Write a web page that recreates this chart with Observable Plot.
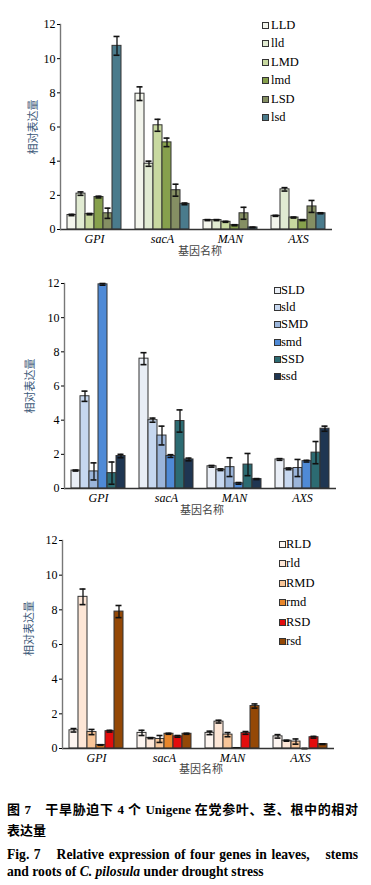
<!DOCTYPE html>
<html>
<head>
<meta charset="utf-8">
<script src="https://cdn.jsdelivr.net/npm/d3@7"></script>
<script src="https://cdn.jsdelivr.net/npm/@observablehq/plot@0.6"></script>
<style>
  html, body { margin: 0; padding: 0; background: #fff; }
  #root { position: relative; width: 371px; height: 885px; overflow: hidden; background: #fff; }
  .panel { position: absolute; left: 0; }
  .legend { position: absolute; font-family: "Liberation Serif", serif; font-size: 12.5px; color: #000; }
  .legend .row { position: absolute; left: 0; white-space: nowrap; line-height: 14px; height: 14px; }
  .legend .sw { position: absolute; left: 0; top: 4px; width: 5px; height: 5px; border: 1px solid #333; }
  .legend .lb { position: absolute; top: 0; }
  .xtitle { position: absolute; font-family: "Noto Sans CJK SC", sans-serif; font-size: 11px; color: #444; white-space: nowrap; transform: translate(-50%, -50%); }
  .cap { position: absolute; left: 7px; width: 351px; font-family: "Liberation Serif", "Noto Sans CJK SC", serif; font-weight: bold; font-size: 13px; color: #000; white-space: nowrap; }
  .en { font-size: 13.6px; }
  .just { text-align: justify; text-align-last: justify; white-space: normal; }
</style>
</head>
<body>
<div id="root"></div>
<script>
// ---------- data ----------
const genes = ["GPI", "sacA", "MAN", "AXS"];
const yTicks = [0, 2, 4, 6, 8, 10, 12];

// leaves
const leafSeries = ["LLD", "lld", "LMD", "lmd", "LSD", "lsd"];
const leafColors = ["#f3f5ec", "#e1ebd2", "#c8d9a0", "#86a04c", "#858f63", "#4a7b8c"];
const leafMeans = [
  [0.85, 2.1, 0.9, 1.9, 0.95, 10.75],   // GPI
  [7.95, 3.85, 6.1, 5.1, 2.3, 1.5],     // sacA
  [0.55, 0.55, 0.45, 0.25, 0.95, 0.12], // MAN
  [0.8, 2.35, 0.7, 0.55, 1.35, 0.95]    // AXS
];
const leafErrs = [
  [0.04, 0.1, 0.04, 0.05, 0.3, 0.55],
  [0.4, 0.15, 0.35, 0.25, 0.35, 0.05],
  [0.03, 0.03, 0.03, 0.03, 0.35, 0.02],
  [0.03, 0.1, 0.03, 0.03, 0.35, 0.03]
];

// stems
const stemSeries = ["SLD", "sld", "SMD", "smd", "SSD", "ssd"];
const stemColors = ["#e9eef6", "#c6d7ef", "#9bb5da", "#4f8ad6", "#2c6b72", "#1f3652"];
const stemMeans = [
  [1.05, 5.4, 1.0, 11.95, 0.9, 1.9],
  [7.6, 4.0, 3.1, 1.9, 3.95, 1.7],
  [1.3, 1.1, 1.25, 0.3, 1.4, 0.55],
  [1.7, 1.15, 1.2, 1.6, 2.1, 3.5]
];
const stemErrs = [
  [0.03, 0.3, 0.5, 0.05, 0.65, 0.1],
  [0.35, 0.12, 0.55, 0.08, 0.65, 0.08],
  [0.05, 0.05, 0.55, 0.05, 0.65, 0.03],
  [0.05, 0.05, 0.5, 0.05, 0.65, 0.15]
];

// roots
const rootSeries = ["RLD", "rld", "RMD", "rmd", "RSD", "rsd"];
const rootColors = ["#fdf5f0", "#fde6d6", "#f8c598", "#e8862b", "#e30d0d", "#944806"];
const rootMeans = [
  [1.05, 8.75, 0.95, 0.2, 1.0, 7.9],
  [0.9, 0.6, 0.55, 0.85, 0.7, 0.85],
  [0.9, 1.55, 0.8, 0.03, 0.9, 2.45],
  [0.7, 0.45, 0.4, 0.0, 0.65, 0.25]
];
const rootErrs = [
  [0.1, 0.45, 0.15, 0.02, 0.05, 0.35],
  [0.15, 0.03, 0.2, 0.03, 0.05, 0.03],
  [0.1, 0.08, 0.12, 0.0, 0.08, 0.12],
  [0.1, 0.03, 0.15, 0.0, 0.05, 0.02]
];

const yTitle = "相对表达量";
const xTitle = "基因名称";

// ---------- drawing ----------
const root = document.getElementById("root");

function panel(cfg) {
  const rows = [];
  genes.forEach((g, i) => cfg.series.forEach((s, j) => {
    rows.push({gene: g, series: s, value: cfg.means[i][j], err: cfg.errs[i][j]});
  }));
  const chart = Plot.plot({
    width: 371,
    height: 260,
    marginLeft: cfg.ml, marginRight: cfg.mr, marginTop: cfg.mt, marginBottom: cfg.mb,
    fx: {domain: genes, padding: 0, label: null},
    x: {domain: cfg.series, paddingInner: 0, paddingOuter: 0.68, axis: null},
    y: {domain: [0, 12], axis: null},
    color: {domain: cfg.series, range: cfg.colors},
    style: {fontFamily: "Liberation Serif, serif", fontSize: "12px", color: "#000", background: "transparent"},
    marks: [
      Plot.barY(rows, {fx: "gene", x: "series", y: "value", fill: "series", stroke: "#333", strokeWidth: 1}),
      Plot.ruleX(rows, {fx: "gene", x: "series", y1: d => d.value - d.err, y2: d => d.value + d.err, stroke: "#111", strokeWidth: 1.3}),
      Plot.tickY(rows, {fx: "gene", x: "series", y: d => d.value + d.err, stroke: "#111", strokeWidth: 1.6, insetLeft: 1.5, insetRight: 1.5}),
      Plot.tickY(rows, {fx: "gene", x: "series", y: d => d.value - d.err, stroke: "#111", strokeWidth: 1.6, insetLeft: 1.5, insetRight: 1.5}),
      Plot.ruleY([0], {stroke: "#333", strokeWidth: 1.4}),
      Plot.frame({anchor: "left", facetAnchor: "left", stroke: "#777", strokeWidth: 1.4}),
      Plot.axisY({ticks: yTicks, tickSize: 3, tickPadding: 2, tickFormat: d => String(d), label: null, fontSize: 12}),
      Plot.axisFx({anchor: "bottom", tickSize: 0, tickPadding: 5, fontStyle: "italic", label: null, fontSize: 12}),
      Plot.text([yTitle], {frameAnchor: "left", rotate: -90, textAnchor: "middle", dx: cfg.titleDx, dy: cfg.titleDy, fill: "#3b5878", fontFamily: "Noto Sans CJK SC, sans-serif", fontSize: 11, facetAnchor: "left"})
    ]
  });
  const wrap = document.createElement("div");
  wrap.className = "panel";
  wrap.style.top = cfg.top + "px";
  wrap.appendChild(chart);
  root.appendChild(wrap);

  // legend
  const lg = document.createElement("div");
  lg.className = "legend";
  lg.style.left = cfg.legX + "px";
  lg.style.top = cfg.legY + "px";
  cfg.series.forEach((s, j) => {
    const r = document.createElement("div");
    r.className = "row";
    r.style.top = (j * cfg.legStep) + "px";
    const sw = document.createElement("span");
    sw.className = "sw";
    sw.style.background = cfg.colors[j];
    const lb = document.createElement("span");
    lb.className = "lb";
    lb.style.left = cfg.legTx + "px";
    lb.textContent = s;
    r.appendChild(sw); r.appendChild(lb);
    lg.appendChild(r);
  });
  root.appendChild(lg);

  const xt = document.createElement("div");
  xt.className = "xtitle";
  xt.style.left = cfg.xtX + "px";
  xt.style.top = cfg.xtY + "px";
  xt.textContent = xTitle;
  root.appendChild(xt);
}

panel({series: leafSeries, colors: leafColors, means: leafMeans, errs: leafErrs,
  top: 0, ml: 58, mr: 38, mt: 24, mb: 31, titleDx: -27, titleDy: 0,
  legX: 262, legY: 18, legStep: 18.4, legTx: 9, xtX: 200, xtY: 250});
panel({series: stemSeries, colors: stemColors, means: stemMeans, errs: stemErrs,
  top: 260, ml: 63, mr: 34, mt: 23, mb: 32, titleDx: -34, titleDy: 0,
  legX: 274, legY: 283, legStep: 17.2, legTx: 7, xtX: 202, xtY: 509});
panel({series: rootSeries, colors: rootColors, means: rootMeans, errs: rootErrs,
  top: 520, ml: 62, mr: 37, mt: 20, mb: 32, titleDx: -33, titleDy: -16,
  legX: 279, legY: 537, legStep: 19.4, legTx: 7, xtX: 201, xtY: 768});

// caption
const capLines = [
  {text: "图 7　干旱胁迫下 4 个 Unigene 在党参叶、茎、根中的相对", y: 799, just: true},
  {text: "表达量", y: 820, just: false},
  {html: "Fig. 7　Relative expression of four genes in leaves,　stems", y: 843, just: true, en: true},
  {html: "and roots of <i>C. pilosula</i> under drought stress", y: 864, just: false, en: true}
];
capLines.forEach(l => {
  const d = document.createElement("div");
  d.className = "cap" + (l.just ? " just" : "") + (l.en ? " en" : "");
  d.style.top = l.y + "px";
  if (l.html) d.innerHTML = l.html; else d.textContent = l.text;
  root.appendChild(d);
});
</script>
</body>
</html>
